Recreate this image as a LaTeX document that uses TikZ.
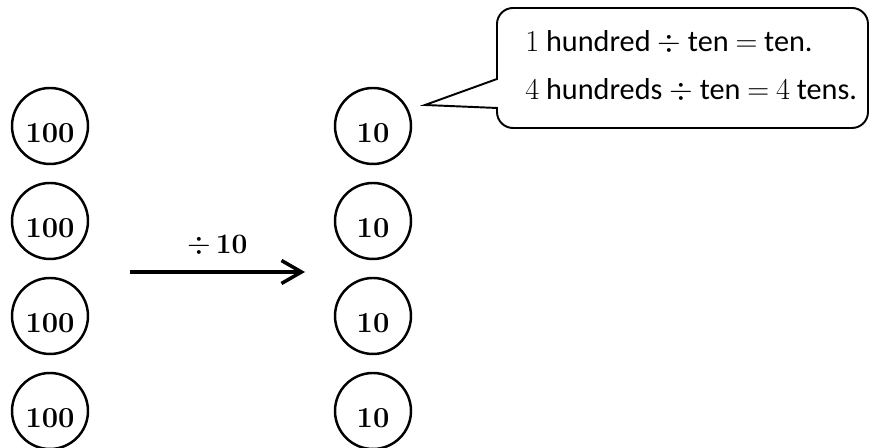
\documentclass[tikz,border=0pt]{standalone}
\usepackage{fontspec}
\newfontfamily\calibri{Carlito}
\usetikzlibrary{arrows.meta}

\begin{document}
\begin{tikzpicture}[>={Straight Barb[length=0.4cm,width=0.46cm]}, node distance=1.9cm,
    coin/.style={circle, draw, line width=1.4pt, minimum size=1.52cm, inner sep=0pt,
                 text height=0.68cm, text depth=0pt, font=\fontsize{16.5}{18}\selectfont\bfseries},
    note/.style={anchor=base west, inner sep=0pt, font=\calibri\fontsize{17.2}{21}\selectfont}]
    \useasboundingbox (0,0) rectangle (17.48,8.96);

    % Hundreds {hund1, hund2, hund3, hund4}
    \node [coin]    (hund1) at (1.0,6.44)       {100};
    \node [coin]    (hund2) [below of=hund1]    {100};
    \node [coin]    (hund3) [below of=hund2]    {100};
    \node [coin]    (hund4) [below of=hund3]    {100};

    % Tens {ten1, ten2, ten3, ten4}
    \node [coin]    (ten1) at (7.46,6.44)       {10};
    \node [coin]    (ten2) [below of=ten1]      {10};
    \node [coin]    (ten3) [below of=ten2]      {10};
    \node [coin]    (ten4) [below of=ten3]      {10};

    % Arrow
    \coordinate (from) at (2.6,3.52);
    \coordinate (to)   at (6.1,3.52);
    \draw [->, line width=2pt] (from) -- node [above=0.28cm, inner sep=0pt, font=\fontsize{16}{18}\selectfont]
        {$\div$\,\textbf{10}} (to);

    % Callout
    \coordinate (tip) at (8.5,6.86);
    \draw [line width=1.1pt] (tip) -- (9.94,7.38) [rounded corners=0.32cm] -- (9.94,8.8) -- (17.36,8.8)
        -- (17.36,6.4) -- (9.94,6.4) [sharp corners] -- (9.94,6.8) -- cycle;
    \node [note]    (note1) at (10.5,7.92)      {$1$ hundred $\div$ ten $=$ ten.};
    \node [note]    (note2) at (10.5,6.96)      {$4$ hundreds $\div$ ten $=$ $4$ tens.};

\end{tikzpicture}
\end{document}
